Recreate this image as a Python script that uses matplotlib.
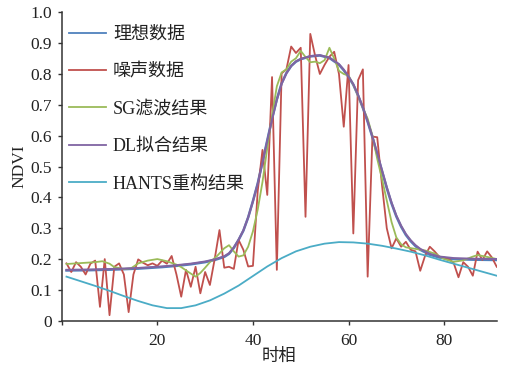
import matplotlib
matplotlib.use('Agg')
import matplotlib.pyplot as plt

# ---------------- data ----------------
t_noise = list(range(1, 92))
noise = [0.186, 0.158, 0.190, 0.175, 0.150, 0.185, 0.195, 0.045, 0.200, 0.018,
         0.175, 0.186, 0.150, 0.028, 0.150, 0.199, 0.188, 0.180, 0.186, 0.178,
         0.195, 0.185, 0.210, 0.150, 0.078, 0.165, 0.110, 0.175, 0.089, 0.158,
         0.116, 0.200, 0.294, 0.172, 0.175, 0.168, 0.262, 0.230, 0.176, 0.178,
         0.420, 0.554, 0.408, 0.790, 0.165, 0.802, 0.815, 0.889, 0.868, 0.885,
         0.337, 0.930, 0.860, 0.800, 0.830, 0.856, 0.872, 0.800, 0.629, 0.829,
         0.283, 0.780, 0.815, 0.143, 0.597, 0.595, 0.440, 0.300, 0.235, 0.267,
         0.240, 0.256, 0.230, 0.225, 0.162, 0.210, 0.240, 0.225, 0.207, 0.205,
         0.200, 0.187, 0.141, 0.190, 0.175, 0.146, 0.224, 0.197, 0.225, 0.205,
         0.175]

t_fit = [1, 6, 11, 16, 21, 24, 27, 30, 32, 34, 35, 36, 37, 38, 39, 40, 41, 42,
         43, 44, 45, 46, 47, 48, 49, 50, 52, 54, 56, 58, 59, 60, 61, 62, 63, 64,
         65, 66, 67, 68, 69, 70, 71, 72, 73, 74, 75, 77, 79, 82, 86, 91]
ideal = [0.163, 0.164, 0.166, 0.169, 0.174, 0.178, 0.183, 0.190, 0.197, 0.207,
         0.217, 0.236, 0.262, 0.292, 0.335, 0.388, 0.445, 0.515, 0.585, 0.655,
         0.718, 0.770, 0.803, 0.826, 0.840, 0.848, 0.857, 0.860, 0.852, 0.830,
         0.812, 0.790, 0.765, 0.730, 0.690, 0.645, 0.595, 0.540, 0.485, 0.430,
         0.380, 0.338, 0.305, 0.278, 0.258, 0.242, 0.230, 0.214, 0.205, 0.200,
         0.198, 0.197]
dl = [0.165, 0.166, 0.168, 0.171, 0.176, 0.180, 0.185, 0.192, 0.199, 0.209,
      0.219, 0.238, 0.263, 0.293, 0.335, 0.387, 0.444, 0.513, 0.583, 0.653,
      0.716, 0.768, 0.802, 0.826, 0.841, 0.849, 0.858, 0.861, 0.853, 0.832,
      0.814, 0.792, 0.767, 0.732, 0.692, 0.647, 0.597, 0.543, 0.488, 0.433,
      0.383, 0.341, 0.308, 0.281, 0.261, 0.245, 0.233, 0.217, 0.208, 0.203,
      0.201, 0.200]

t_sg = [1, 3, 5, 7, 8.5, 10, 11, 13, 14.5, 16, 18, 20, 22, 24, 25, 26.5, 28,
        29, 30, 31, 32.5, 34, 35, 36, 37, 38, 39, 40, 41, 42, 43, 44, 45, 46,
        47, 48, 49, 50, 51, 52, 53, 54, 55, 56, 57, 58, 59, 60, 61, 62, 63, 64,
        65, 66, 67, 68, 69, 70, 71, 72, 74, 76, 78, 80, 82, 84, 86, 87, 89, 91]
sg = [0.184, 0.186, 0.188, 0.190, 0.193, 0.185, 0.174, 0.168, 0.170, 0.186,
      0.195, 0.200, 0.193, 0.182, 0.174, 0.158, 0.143, 0.155, 0.172, 0.190,
      0.210, 0.235, 0.245, 0.225, 0.208, 0.212, 0.240, 0.290, 0.360, 0.450,
      0.560, 0.665, 0.760, 0.805, 0.815, 0.840, 0.851, 0.875, 0.855, 0.838,
      0.840, 0.835, 0.845, 0.885, 0.850, 0.810, 0.800, 0.795, 0.765, 0.730,
      0.690, 0.655, 0.600, 0.525, 0.460, 0.390, 0.320, 0.270, 0.248, 0.238,
      0.233, 0.228, 0.218, 0.200, 0.191, 0.196, 0.208, 0.213, 0.207, 0.200]

t_hants = [1, 4, 7, 10, 13, 16, 19, 22, 25, 28, 31, 34, 37, 40, 43, 46, 49, 52,
           55, 58, 61, 64, 67, 70, 73, 76, 79, 82, 85, 88, 91]
hants = [0.143, 0.128, 0.113, 0.097, 0.080, 0.064, 0.050, 0.041, 0.041, 0.050,
         0.066, 0.088, 0.114, 0.145, 0.176, 0.203, 0.225, 0.240, 0.250, 0.255,
         0.254, 0.250, 0.243, 0.234, 0.224, 0.212, 0.198, 0.185, 0.172, 0.159,
         0.146]

labels = ['理想数据', '噪声数据', 'SG滤波结果', 'DL拟合结果', 'HANTS重构结果']
colors = ['#4F81BD', '#C0504D', '#9BBB59', '#8064A2', '#4BACC6']

x_ticks = [0, 20, 40, 60, 80]
x_ticklabels = ['', '20', '40', '60', '80']
y_ticks = [0, 0.1, 0.2, 0.3, 0.4, 0.5, 0.6, 0.7, 0.8, 0.9, 1.0]
y_ticklabels = ['0', '0.1', '0.2', '0.3', '0.4', '0.5', '0.6', '0.7', '0.8', '0.9', '1.0']

# ---------------- plot ----------------
plt.rcParams['font.family'] = ['Liberation Serif', 'Noto Sans CJK SC']

fig = plt.figure(figsize=(5.08, 3.67), dpi=100)
ax = fig.add_axes([0.1215, 0.126, 0.8563, 0.8405])

ax.plot(t_fit, ideal, color=colors[0], lw=1.8, label=labels[0])
ax.plot(t_noise, noise, color=colors[1], lw=1.3, label=labels[1])
ax.plot(t_sg, sg, color=colors[2], lw=1.3, label=labels[2])
ax.plot(t_fit, dl, color=colors[3], lw=1.5, label=labels[3])
ax.plot(t_hants, hants, color=colors[4], lw=1.3, label=labels[4])

ax.set_xlim(0, 91)
ax.set_ylim(0, 1.0)
ax.set_xticks(x_ticks)
ax.set_xticklabels(x_ticklabels)
ax.set_yticks(y_ticks)
ax.set_yticklabels(y_ticklabels)

for s in ['top', 'right']:
    ax.spines[s].set_visible(False)
for s in ['left', 'bottom']:
    ax.spines[s].set_color('#333333')
    ax.spines[s].set_linewidth(1.1)

ax.tick_params(axis='both', direction='out', length=3, width=1.0,
               colors='#333333', labelsize=12.5, labelcolor='#222222')
ax.tick_params(axis='y', pad=4)
ax.tick_params(axis='x', pad=6)

ax.set_xlabel('时相', fontsize=12.5, color='#222222', labelpad=0)
ax.set_ylabel('NDVI', fontsize=12.5, color='#222222', labelpad=2)

leg = ax.legend(loc='upper left', bbox_to_anchor=(0.017, 0.956), frameon=False,
                fontsize=13, handlelength=2.03, handletextpad=0.4,
                labelspacing=1.13, borderpad=0, borderaxespad=0)
for line in leg.get_lines():
    line.set_linewidth(1.3)
for txt in leg.get_texts():
    txt.set_color('#222222')

fig.savefig('out.png', dpi=100)
